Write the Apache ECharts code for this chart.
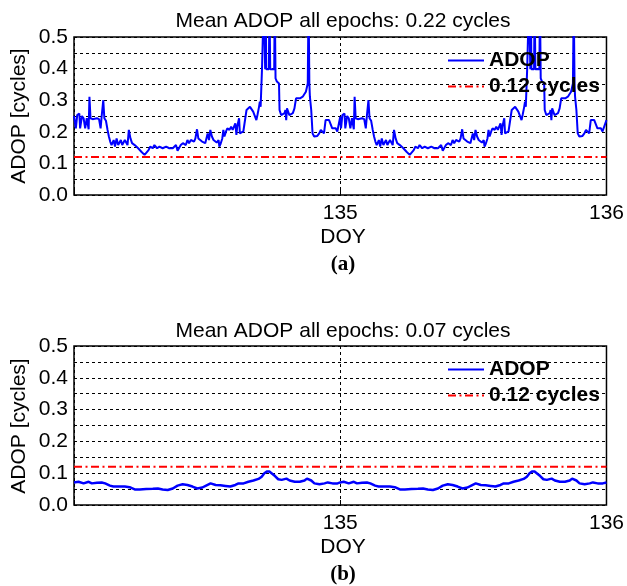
<!DOCTYPE html>
<html><head><meta charset="utf-8">
<script src="https://cdn.jsdelivr.net/npm/echarts@6/dist/echarts.min.js"></script>
<style>html,body{margin:0;padding:0;background:#fff}#c{width:627px;height:586px}</style>
</head><body><div id="c"></div>
<script>
// ---- Panel (a): ADOP, first day (DOY 134-135)
const doyA1 = [134.000,134.007,134.012,134.020,134.023,134.030,134.036,134.042,134.048,134.055,134.058,134.062,134.070,134.077,134.086,134.094,134.100,134.104,134.110,134.114,134.120,134.126,134.131,134.136,134.141,134.149,134.154,134.160,134.166,134.176,134.181,134.191,134.201,134.206,134.212,134.218,134.228,134.241,134.253,134.265,134.271,134.280,134.286,134.296,134.302,134.312,134.321,134.333,134.346,134.358,134.371,134.383,134.389,134.401,134.409,134.420,134.426,134.432,134.439,134.451,134.456,134.462,134.467,134.481,134.493,134.502,134.507,134.512,134.518,134.524,134.530,134.536,134.543,134.546,134.551,134.557,134.561,134.565,134.571,134.576,134.584,134.590,134.596,134.601,134.606,134.610,134.613,134.620,134.623,134.629,134.636,134.642,134.648,134.654,134.661,134.667,134.673,134.679,134.685,134.689,134.695,134.698,134.701,134.706,134.710,134.713,134.716,134.718,134.720,134.722,134.732,134.734,134.737,134.752,134.754,134.757,134.762,134.770,134.772,134.778,134.784,134.791,134.794,134.797,134.800,134.804,134.809,134.815,134.822,134.828,134.834,134.840,134.849,134.859,134.871,134.878,134.881,134.884,134.886,134.891,134.896,134.902,134.908,134.914,134.921,134.927,134.933,134.939,134.945,134.952,134.958,134.964,134.970,134.977,134.983,134.989,134.995];
const adopA1 = [0.250,0.211,0.253,0.258,0.211,0.250,0.243,0.211,0.243,0.208,0.311,0.243,0.240,0.240,0.243,0.240,0.211,0.250,0.300,0.243,0.235,0.206,0.185,0.169,0.158,0.174,0.153,0.179,0.158,0.174,0.158,0.174,0.158,0.206,0.179,0.164,0.158,0.148,0.137,0.127,0.132,0.142,0.153,0.148,0.158,0.148,0.153,0.148,0.153,0.148,0.148,0.158,0.140,0.158,0.164,0.158,0.174,0.164,0.174,0.169,0.179,0.208,0.179,0.169,0.164,0.195,0.174,0.206,0.185,0.174,0.169,0.166,0.174,0.153,0.163,0.179,0.206,0.185,0.201,0.211,0.206,0.216,0.206,0.208,0.227,0.190,0.216,0.243,0.195,0.201,0.201,0.206,0.269,0.269,0.279,0.285,0.264,0.259,0.237,0.253,0.279,0.295,0.279,0.396,0.398,0.620,0.620,0.398,0.620,0.398,0.398,0.620,0.398,0.398,0.620,0.369,0.359,0.353,0.269,0.253,0.250,0.259,0.269,0.237,0.274,0.269,0.253,0.248,0.259,0.274,0.306,0.301,0.306,0.311,0.327,0.353,0.620,0.353,0.311,0.269,0.195,0.185,0.179,0.187,0.195,0.206,0.201,0.195,0.237,0.243,0.237,0.232,0.211,0.206,0.211,0.201,0.195];
// ---- Panel (a): ADOP, second day (DOY 135-136)
const doyA2 = [135.000,135.003,135.008,135.016,135.019,135.026,135.032,135.038,135.044,135.051,135.054,135.058,135.066,135.073,135.082,135.090,135.096,135.100,135.106,135.110,135.116,135.122,135.127,135.132,135.137,135.145,135.150,135.156,135.162,135.172,135.177,135.187,135.197,135.202,135.208,135.214,135.224,135.237,135.249,135.261,135.267,135.276,135.282,135.292,135.298,135.308,135.317,135.329,135.342,135.354,135.367,135.379,135.385,135.397,135.405,135.416,135.422,135.428,135.435,135.447,135.452,135.458,135.463,135.477,135.489,135.498,135.503,135.508,135.514,135.520,135.526,135.532,135.539,135.542,135.547,135.553,135.557,135.561,135.567,135.572,135.580,135.586,135.592,135.597,135.602,135.606,135.609,135.616,135.619,135.625,135.632,135.638,135.644,135.650,135.657,135.663,135.669,135.675,135.681,135.685,135.691,135.694,135.697,135.702,135.706,135.709,135.712,135.714,135.716,135.718,135.728,135.730,135.733,135.748,135.750,135.753,135.758,135.766,135.768,135.774,135.780,135.787,135.790,135.793,135.796,135.800,135.805,135.811,135.818,135.824,135.830,135.836,135.845,135.855,135.867,135.874,135.877,135.880,135.882,135.887,135.892,135.898,135.904,135.910,135.917,135.923,135.929,135.935,135.941,135.948,135.954,135.960,135.966,135.973,135.979,135.985,135.991,136.000];
const adopA2 = [0.248,0.211,0.253,0.258,0.211,0.250,0.243,0.211,0.243,0.208,0.311,0.243,0.240,0.240,0.243,0.240,0.211,0.250,0.300,0.243,0.235,0.206,0.185,0.169,0.158,0.174,0.153,0.179,0.158,0.174,0.158,0.174,0.158,0.206,0.179,0.164,0.158,0.148,0.137,0.127,0.132,0.142,0.153,0.148,0.158,0.148,0.153,0.148,0.153,0.148,0.148,0.158,0.140,0.158,0.164,0.158,0.174,0.164,0.174,0.169,0.179,0.208,0.179,0.169,0.164,0.195,0.174,0.206,0.185,0.174,0.169,0.166,0.174,0.153,0.163,0.179,0.206,0.185,0.201,0.211,0.206,0.216,0.206,0.208,0.227,0.190,0.216,0.243,0.195,0.201,0.201,0.206,0.269,0.269,0.279,0.285,0.264,0.259,0.237,0.253,0.279,0.295,0.279,0.396,0.398,0.620,0.620,0.398,0.620,0.398,0.398,0.620,0.398,0.398,0.620,0.369,0.359,0.353,0.269,0.253,0.250,0.259,0.269,0.237,0.274,0.269,0.253,0.248,0.259,0.274,0.306,0.301,0.306,0.311,0.327,0.353,0.620,0.353,0.311,0.269,0.195,0.185,0.179,0.187,0.195,0.206,0.201,0.195,0.237,0.243,0.237,0.232,0.211,0.206,0.211,0.201,0.195,0.237];
// ---- Panel (b): ADOP
const doyB1 = [134.000,134.017,134.036,134.055,134.067,134.086,134.104,134.117,134.135,134.148,134.166,134.191,134.209,134.228,134.247,134.271,134.296,134.315,134.333,134.352,134.371,134.389,134.408,134.426,134.445,134.463,134.482,134.498,134.513,134.532,134.550,134.569,134.587,134.606,134.618,134.637,134.655,134.674,134.693,134.705,134.715,134.724,134.734,134.742,134.755,134.767,134.780,134.798,134.810,134.829,134.848,134.866,134.875,134.882,134.891,134.903,134.922,134.941,134.953,134.971,134.990];
const adopB1 = [0.071,0.073,0.068,0.073,0.068,0.070,0.071,0.068,0.061,0.058,0.058,0.058,0.056,0.049,0.049,0.050,0.051,0.052,0.049,0.047,0.052,0.061,0.065,0.063,0.058,0.052,0.055,0.062,0.068,0.063,0.062,0.060,0.058,0.063,0.068,0.068,0.073,0.077,0.082,0.089,0.100,0.105,0.105,0.100,0.091,0.081,0.079,0.083,0.077,0.073,0.073,0.077,0.083,0.089,0.077,0.068,0.065,0.068,0.071,0.068,0.068];
const doyB2 = [135.000,135.013,135.032,135.051,135.063,135.082,135.100,135.113,135.131,135.144,135.162,135.187,135.205,135.224,135.243,135.267,135.292,135.311,135.329,135.348,135.367,135.385,135.404,135.422,135.441,135.459,135.478,135.494,135.509,135.528,135.546,135.565,135.583,135.602,135.614,135.633,135.651,135.670,135.689,135.701,135.711,135.720,135.730,135.738,135.751,135.763,135.776,135.794,135.806,135.825,135.844,135.862,135.871,135.878,135.887,135.899,135.918,135.937,135.949,135.967,135.986,136.000];
const adopB2 = [0.071,0.073,0.068,0.073,0.068,0.070,0.071,0.068,0.061,0.058,0.058,0.058,0.056,0.049,0.049,0.050,0.051,0.052,0.049,0.047,0.052,0.061,0.065,0.063,0.058,0.052,0.055,0.062,0.068,0.063,0.062,0.060,0.058,0.063,0.068,0.068,0.073,0.077,0.082,0.089,0.100,0.105,0.105,0.100,0.091,0.081,0.079,0.083,0.077,0.073,0.073,0.077,0.083,0.089,0.077,0.068,0.065,0.068,0.071,0.068,0.068,0.071];
// ---- Threshold line
const thrDoy = [134, 136];
const thrVal = [0.12, 0.12];
// ---- Texts
const titles = ['Mean ADOP all epochs: 0.22 cycles', 'Mean ADOP all epochs: 0.07 cycles'];
const panelTags = ['(a)', '(b)'];
const xTickLabels = [135, 136];
const yTickLabels = [0.0, 0.1, 0.2, 0.3, 0.4, 0.5];
const seriesNames = ['ADOP', '0.12 cycles'];

const pairs = (xs, ys) => xs.map((x, i) => [x, ys[i]]);
const dataA = pairs(doyA1.concat(doyA2), adopA1.concat(adopA2));
const dataB = pairs(doyB1.concat(doyB2), adopB1.concat(adopB2));
const thr = pairs(thrDoy, thrVal);

const FONT = "'Liberation Sans', Arial, Helvetica, sans-serif";
const SERIF = "'Liberation Serif', 'Times New Roman', serif";
const dotted = {color: '#000', width: 1, type: [3, 3]};

const grids = [
  {left: 74, top: 37, width: 538, height: 158},
  {left: 74, top: 346, width: 538, height: 159}
].map(g => Object.assign(g, {show: true, borderColor: '#000', borderWidth: 1.5, backgroundColor: 'transparent'}));

const xAxes = [0, 1].map(i => ({
  type: 'value', gridIndex: i, min: 134, max: 136, interval: 1,
  axisLine: {show: false},
  axisTick: {show: true, inside: true, length: 5, lineStyle: {color: '#000', width: 1}},
  axisLabel: {margin: 8, fontSize: 21, color: '#000', fontFamily: FONT, showMaxLabel: true,
    formatter: v => xTickLabels.includes(v) ? String(v) : ''},
  splitLine: {show: true, lineStyle: dotted}
}));
const yAxes = [0, 1].map(i => ({
  type: 'value', gridIndex: i, min: 0, max: 0.5, interval: 0.05,
  axisLine: {show: false}, axisTick: {show: false},
  axisLabel: {margin: 6, fontSize: 21, color: '#000', fontFamily: FONT, showMaxLabel: true,
    formatter: v => {
      const t = yTickLabels.find(y => Math.abs(y - v) < 1e-6);
      return t === undefined ? '' : t.toFixed(1);
    }},
  splitLine: {show: true, lineStyle: dotted}
}));

const series = [];
[dataA, dataB].forEach((d, i) => {
  series.push({name: seriesNames[0], type: 'line', xAxisIndex: i, yAxisIndex: i, data: d,
    showSymbol: false, symbol: 'none', clip: true, lineStyle: {color: '#0000ff', width: i === 0 ? 2 : 2.5},
    itemStyle: {color: '#0000ff'}, z: 3});
  series.push({name: seriesNames[1], type: 'line', xAxisIndex: i, yAxisIndex: i, data: thr,
    showSymbol: false, symbol: 'none', lineStyle: {color: '#ff0000', width: 2, type: [8, 3.5, 2, 3.5]},
    itemStyle: {color: '#ff0000'}, z: 2});
});

const iconSolid = 'path://M0,0h36v2h-36z';
const iconDash = 'path://M0,0h8v2h-8zM11.5,0h2v2h-2zM17,0h8v2h-8zM28.5,0h2v2h-2zM34,0h2v2h-2z';
const legends = [50, 359].map(top => ({
  left: 448, top: top, orient: 'vertical', align: 'left', padding: 0,
  itemWidth: 36, itemHeight: 2, itemGap: 5, selectedMode: false,
  data: [{name: seriesNames[0], icon: iconSolid}, {name: seriesNames[1], icon: iconDash}],
  textStyle: {fontSize: 21, fontWeight: 'bold', color: '#000', fontFamily: FONT}
}));

const txt = (x, y, text, opts) => ({type: 'text', x: x, y: y, rotation: opts && opts.rot || 0, z: 10,
  style: Object.assign({text: text, fill: '#000', font: '21px ' + FONT, textAlign: 'center', textVerticalAlign: 'middle'}, opts && opts.style || {})});

const graphic = [
  txt(343, 21, titles[0]),
  txt(343, 331, titles[1]),
  txt(19, 116, 'ADOP [cycles]', {rot: Math.PI / 2}),
  txt(19, 426, 'ADOP [cycles]', {rot: Math.PI / 2}),
  txt(343, 237, 'DOY'),
  txt(343, 547, 'DOY'),
  txt(343, 265, panelTags[0], {style: {font: 'bold 21px ' + SERIF}}),
  txt(343, 575, panelTags[1], {style: {font: 'bold 21px ' + SERIF}})
];

const chart = echarts.init(document.getElementById('c'), null, {renderer: 'canvas'});
chart.setOption({
  animation: false,
  backgroundColor: '#fff',
  grid: grids, xAxis: xAxes, yAxis: yAxes, series: series, legend: legends, graphic: graphic
});
</script></body></html>
